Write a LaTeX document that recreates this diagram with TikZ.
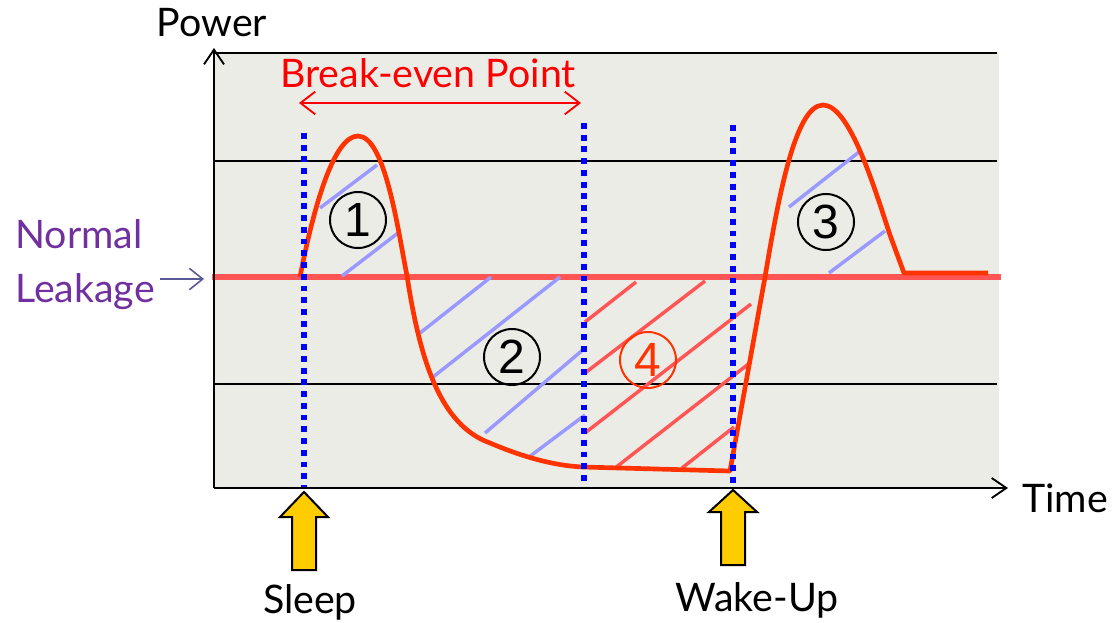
\documentclass[tikz,border=0pt]{standalone}
\usepackage{fontspec}
\setmainfont{Lato}
\newfontfamily\numfont{Liberation Sans}
\usetikzlibrary{arrows.meta,positioning}
\definecolor{panelgray}{HTML}{ECECE6}
\definecolor{curvered}{HTML}{FF3300}
\definecolor{leakred}{HTML}{FF5555}
\definecolor{hatchblue}{HTML}{9999FF}
\definecolor{hatchred}{HTML}{FF5555}
\definecolor{leakpurple}{HTML}{7030A0}
\definecolor{leakarrow}{HTML}{5A5A96}
\definecolor{eventyellow}{HTML}{FFCC00}

\begin{document}
\begin{tikzpicture}[x=0.75pt, y=-0.75pt,
  label/.style={font=\fontsize{29.5}{31}\selectfont, inner sep=0pt},
  grid/.style={black, line width=1.6pt},
  axis/.style={black, line width=1.4pt, -{Straight Barb[length=11pt,width=15pt,line width=1.4pt]}},
  marker/.style={blue, line width=4.2pt, dash pattern=on 4.4pt off 4.4pt},
  power/.style={curvered, line width=3.5pt, line join=round},
  hatchA/.style={hatchblue, line width=2.6pt},
  hatchB/.style={hatchred, line width=2.6pt},
  num/.style={circle, draw, line width=1.5pt, minimum size=42pt, inner sep=0pt,
    font=\fontsize{36}{36}\selectfont\numfont},
  event/.style={fill=eventyellow, draw=black, line width=1.5pt, line join=miter}
]
\useasboundingbox (0,0) rectangle (1113,622);

% panel and grid
\fill[panelgray] (213,52) rectangle (999,488);
\draw[grid] (213,53) -- (997,53);
\draw[grid] (213,161) -- (997,161);
\draw[grid] (213,384) -- (997,384);
\draw[leakred, line width=3.8pt] (212,277) -- (1001,277);

% hatching
\draw[hatchA] (320,208) -- (377,165);
\draw[hatchA] (342,276) -- (398,233);
\draw[hatchA] (420,333) -- (491,277);
\draw[hatchA] (433,377) -- (560,277);
\draw[hatchA] (485,433) -- (585,348);
\draw[hatchA] (529,457) -- (585,415);
\draw[hatchA] (789,207) -- (859,152);
\draw[hatchA] (829,273) -- (885,231);
\draw[hatchB] (585,322) -- (636,282);
\draw[hatchB] (585,373) -- (705,281);
\draw[hatchB] (585,433) -- (751,304);
\draw[hatchB] (615,468) -- (751,362);
\draw[hatchB] (682,468) -- (734,427);

% power curve
\draw[power] (300,277) .. controls (315,200) and (335,136) .. (358,136)
  .. controls (385,136) and (398,230) .. (407,276)
  .. controls (420,360) and (440,425) .. (490,443)
  .. controls (530,460) and (560,466) .. (583,467)
  -- (730,471) -- (765,277)
  .. controls (778,200) and (795,105) .. (823,105)
  .. controls (850,105) and (875,190) .. (890,235)
  -- (904,273) -- (988,273);

% markers
\coordinate (sleep) at (304,488);
\coordinate (even) at (584,488);
\coordinate (wake) at (733,488);
\draw[marker] (304,133) -- (sleep);
\draw[marker] (584,123) -- (even);
\draw[marker] (733,125) -- (wake);

% axes
\coordinate (origin) at (214,488);
\coordinate (ytip) at (214,48);
\coordinate (xtip) at (1008,488);
\draw[axis] (origin) -- (ytip);
\draw[axis] (origin) -- (xtip);

% circled numbers
\node[num] (n1) at (358,220) {1};
\node[num] (n2) at (512,357) {2};
\node[num] (n3) at (826,222) {3};
\node[num, draw=curvered, text=curvered] (n4) at (648,360) {4};

% labels
\node[label, anchor=base] (power) at (212,36) {Power};
\node[label, anchor=base west] (time) at (1022,512) {Time};
\node[label, anchor=base, text=red] (breakeven) at (428,87) {Break-even Point};
\coordinate (be-l) at (299,103);
\coordinate (be-r) at (581,103);
\draw[red, line width=1.4pt, {Straight Barb[length=11pt,width=17pt,line width=1.4pt]}-{Straight Barb[length=11pt,width=17pt,line width=1.4pt]}] (be-l) -- (be-r);
\node[label, anchor=base west, text=leakpurple] (normal) at (15,248) {Normal};
\node[label, anchor=base west, text=leakpurple] (leakage) at (15,302) {Leakage};
\coordinate (leak-tip) at (204,279);
\draw[leakarrow, line width=1.2pt, -{Straight Barb[length=10pt,width=16pt,line width=1.2pt]}] (leakage.east |- leak-tip) ++(5,0) -- (leak-tip);

% events
\draw[event] (304,492) -- ++(24,25) -- ++(-12,0) -- ++(0,53) -- ++(-24,0) -- ++(0,-53) -- ++(-12,0) -- cycle;
\draw[event] (733,490) -- ++(24,22) -- ++(-12,0) -- ++(0,53) -- ++(-24,0) -- ++(0,-53) -- ++(-12,0) -- cycle;
\node[label, anchor=base] (sleeplbl) at (310,613) {Sleep};
\node[label, anchor=base] (wakelbl) at (757,611) {Wake-Up};
\end{tikzpicture}
\end{document}
